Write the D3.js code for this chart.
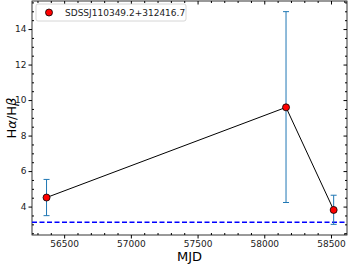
<!DOCTYPE html>
<html>
<head>
<meta charset="utf-8">
<script src="https://cdn.jsdelivr.net/npm/d3@7"></script>
<style>
  body { margin: 0; background: white; }
  text { font-family: "DejaVu Sans", sans-serif; }
</style>
</head>
<body>
<script>
// data
var mjd = [56368, 58163, 58520];
var ratio = [4.51, 9.59, 3.81];
var errLow = [3.49, 4.23, 3.0];
var errHigh = [5.53, 14.98, 4.64];
var baseline = 3.12;
var label = "SDSSJ110349.2+312416.7";
var xTicks = [56500, 57000, 57500, 58000, 58500];
var yTicks = [4, 6, 8, 10, 12, 14];

var w = 349, h = 264;
var padL = 32, padR = 347, padT = 1, padB = 235;

var svg = d3.select("body").append("svg")
  .attr("width", w).attr("height", h);

var x = d3.scaleLinear().domain([56259, 58620]).range([padL, padR]);
var y = d3.scaleLinear().domain([2.4, 15.58]).range([padB, padT]);

var xMinor = d3.range(56300, 58620, 100).filter(d => xTicks.indexOf(d) < 0);
var yMinor = d3.range(2.5, 15.58, 0.5).filter(d => yTicks.indexOf(d) < 0);

// axes: major outward on bottom/left, minor ticks inward, mirrored ticks inward
function axisG(axis, tx, ty) {
  var g = svg.append("g").attr("transform", "translate(" + tx + "," + ty + ")").call(axis);
  g.select(".domain").remove();
  g.selectAll("text").style("font-size", "9px").attr("fill", "#222");
  return g;
}
axisG(d3.axisBottom(x).tickValues(xTicks).tickSize(3.5).tickPadding(2).tickFormat(d3.format("d")), 0, padB);
axisG(d3.axisLeft(y).tickValues(yTicks).tickSize(3.5).tickPadding(2), padL, 0);
axisG(d3.axisBottom(x).tickValues(xMinor).tickSize(-2).tickFormat(""), 0, padB);
axisG(d3.axisLeft(y).tickValues(yMinor).tickSize(-2).tickFormat(""), padL, 0);
axisG(d3.axisTop(x).tickValues(xTicks).tickSize(-3.5).tickFormat(""), 0, padT);
axisG(d3.axisTop(x).tickValues(xMinor).tickSize(-2).tickFormat(""), 0, padT);
axisG(d3.axisRight(y).tickValues(yTicks).tickSize(-3.5).tickFormat(""), padR, 0);
axisG(d3.axisRight(y).tickValues(yMinor).tickSize(-2).tickFormat(""), padR, 0);

svg.append("rect")
  .attr("x", padL).attr("y", padT)
  .attr("width", padR - padL).attr("height", padB - padT)
  .attr("fill", "none").attr("stroke", "#000").attr("stroke-width", 0.8);

// dashed reference line
svg.append("line")
  .attr("x1", padL).attr("x2", padR)
  .attr("y1", y(baseline)).attr("y2", y(baseline))
  .attr("stroke", "#0000ff").attr("stroke-width", 1.5)
  .attr("stroke-dasharray", "5,2.5");

var pts = mjd.map((d, i) => ({mjd: d, r: ratio[i], lo: errLow[i], hi: errHigh[i]}));

// error bars
var eb = svg.append("g").attr("stroke", "#1f77b4").attr("stroke-width", 1);
pts.forEach(function(d) {
  eb.append("line").attr("x1", x(d.mjd)).attr("x2", x(d.mjd))
    .attr("y1", y(d.lo)).attr("y2", y(d.hi));
  [d.lo, d.hi].forEach(function(v) {
    eb.append("line").attr("x1", x(d.mjd) - 3).attr("x2", x(d.mjd) + 3)
      .attr("y1", y(v)).attr("y2", y(v));
  });
});

svg.append("path").datum(pts)
  .attr("fill", "none").attr("stroke", "#000").attr("stroke-width", 1)
  .attr("d", d3.line().x(d => x(d.mjd)).y(d => y(d.r)));

svg.selectAll("circle.pt").data(pts).enter().append("circle")
  .attr("class", "pt")
  .attr("cx", d => x(d.mjd)).attr("cy", d => y(d.r)).attr("r", 3.5)
  .attr("fill", "#ff0000").attr("stroke", "#000").attr("stroke-width", 0.8);

// legend
svg.append("rect").attr("x", 36).attr("y", 4).attr("width", 150).attr("height", 17)
  .attr("rx", 2).attr("fill", "white").attr("stroke", "#ccc").attr("stroke-width", 0.8);
svg.append("circle").attr("cx", 49).attr("cy", 12.5).attr("r", 3.5)
  .attr("fill", "#ff0000").attr("stroke", "#000").attr("stroke-width", 0.8);
svg.append("text").attr("x", 65).attr("y", 16).style("font-size", "9px").attr("fill", "#222")
  .text(label);

// axis labels
svg.append("text").attr("x", (padL + padR) / 2).attr("y", 261)
  .attr("text-anchor", "middle").style("font-size", "13px").text("MJD");
var yl = svg.append("text")
  .attr("transform", "translate(16," + ((padT + padB) / 2) + ") rotate(-90)")
  .attr("text-anchor", "middle").style("font-size", "13px");
yl.append("tspan").text("H");
yl.append("tspan").style("font-style", "italic").text("α");
yl.append("tspan").text("/H");
yl.append("tspan").style("font-style", "italic").text("β");
</script>
</body>
</html>
